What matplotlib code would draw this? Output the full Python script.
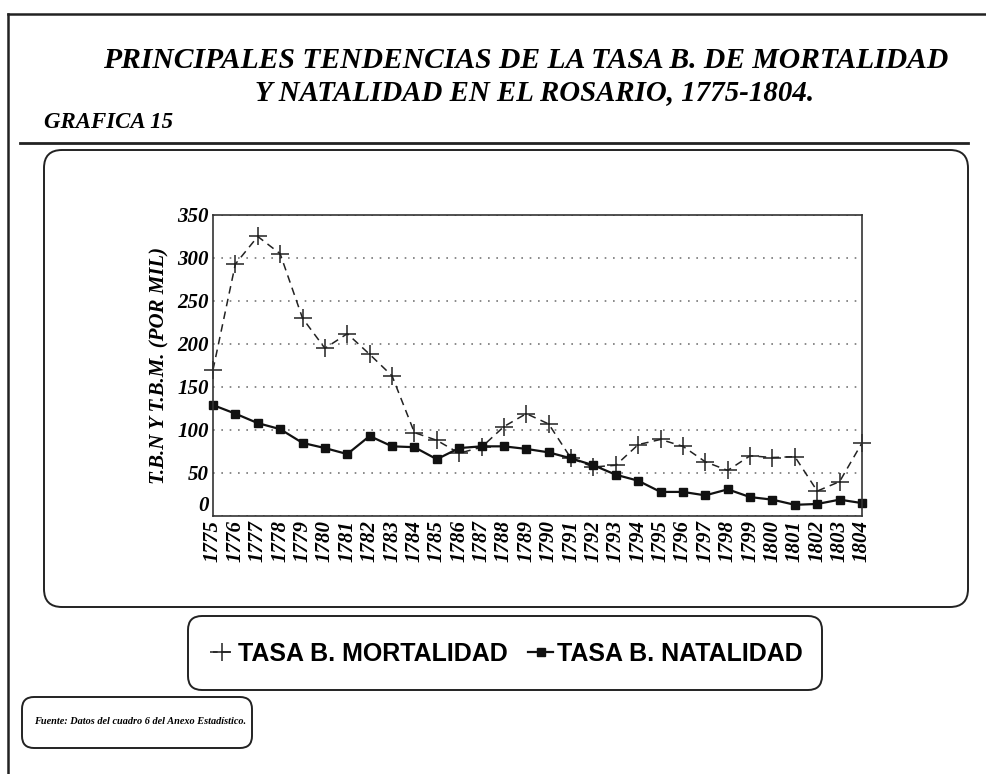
import matplotlib
matplotlib.use('Agg')
import matplotlib.pyplot as plt
from matplotlib.patches import FancyBboxPatch
from matplotlib.lines import Line2D

# data (per thousand)
years = list(range(1775, 1805))
mortalidad = [170, 293, 325, 305, 230, 195, 212, 188, 163, 97,
              88, 73, 80, 104, 119, 107, 67, 57, 59, 83,
              89, 81, 63, 53, 70, 68, 69, 29, 40, 85]
natalidad = [129, 119, 108, 101, 85, 79, 72, 93, 81, 80,
             66, 79, 81, 81, 78, 74, 67, 59, 48, 41,
             28, 28, 24, 31, 22, 19, 13, 14, 19, 15]
yticks = [0, 50, 100, 150, 200, 250, 300, 350]

W, H = 987, 774
SERIF = 'Liberation Serif'
SANS = 'Liberation Sans'

fig = plt.figure(figsize=(W / 100, H / 100), dpi=100)
fig.patch.set_facecolor('white')
px = fig.dpi_scale_trans


def pbox(x0, y0, x1, y1, r, lw=1.4):
    """rounded box in pixel coords measured from top-left"""
    p = FancyBboxPatch((x0 / 100, (H - y1) / 100), (x1 - x0) / 100, (y1 - y0) / 100,
                       boxstyle='round,pad=0,rounding_size=%f' % (r / 100),
                       transform=px, fill=False, ec='#222222', lw=lw)
    fig.patches.append(p)


def pline(xs, ys, lw=1.5):
    fig.lines.append(Line2D([x / 100 for x in xs], [(H - y) / 100 for y in ys],
                            transform=px, color='#222222', lw=lw))


# page frame and rule
pline([8, W], [14, 14], lw=1.8)
pline([8, 8], [14, H], lw=1.8)
pline([20, 968], [143, 143], lw=2)

# boxes
pbox(44, 150, 968, 607, 18)
pbox(188, 616, 822, 690, 14)
pbox(22, 697, 252, 748, 12)

# titles
fig.text(526 / W, 1 - 60 / H, 'PRINCIPALES TENDENCIAS DE LA TASA B. DE MORTALIDAD',
         ha='center', va='center', fontsize=21.3, family=SERIF, weight='bold', style='italic')
fig.text(535 / W, 1 - 93 / H, 'Y NATALIDAD EN EL ROSARIO, 1775-1804.',
         ha='center', va='center', fontsize=20.8, family=SERIF, weight='bold', style='italic')
fig.text(44 / W, 1 - 123 / H, 'GRAFICA 15', ha='left', va='center', fontsize=16.5,
         family=SERIF, weight='bold', style='italic')

# main axes
ax = fig.add_axes([213 / W, 1 - 516 / H, (862 - 213) / W, (516 - 215) / H])
ax.plot(years, mortalidad, color='#222222', lw=1.1, ls=(0, (5, 3.5)),
        marker='+', ms=13, mew=1.1, label='TASA B. MORTALIDAD', clip_on=False)
ax.plot(years, natalidad, color='#111111', lw=1.6, marker='s', ms=6,
        label='TASA B. NATALIDAD', clip_on=False)
ax.set_xlim(1775, 1804)
ax.set_ylim(0, 350)
ax.set_yticks(yticks)
ax.set_xticks(years)
ax.set_xticklabels([str(y) for y in years], rotation=90, family=SERIF,
                   weight='bold', style='italic', fontsize=15)
ax.set_yticklabels([str(v) for v in yticks], family=SERIF, weight='bold',
                   style='italic', fontsize=15)
ax.get_yticklabels()[0].set_va('bottom')
ax.tick_params(length=0, pad=3)
ax.yaxis.grid(True, color='#777777', ls=(0, (1, 4)), lw=1.2)
ax.set_axisbelow(True)
for s in ax.spines.values():
    s.set_color('#333333')
    s.set_linewidth(1.2)
ax.set_ylabel('T.B.N Y T.B.M. (POR MIL)', family=SERIF, weight='bold',
              style='italic', fontsize=15, labelpad=6)

# legend
h, l = ax.get_legend_handles_labels()
fig.legend(h, l, loc='center', bbox_to_anchor=(506 / W, 1 - 654 / H), ncol=2,
           frameon=False, handlelength=1.0, handletextpad=0.15, columnspacing=0.8,
           prop={'family': SANS, 'weight': 'bold', 'size': 18})

fig.text(34 / W, 1 - 722 / H, 'Fuente: Datos del cuadro 6 del Anexo Estadístico.',
         ha='left', va='center', fontsize=7.4, family=SERIF, weight='bold', style='italic')

fig.savefig('out.png', dpi=100)
